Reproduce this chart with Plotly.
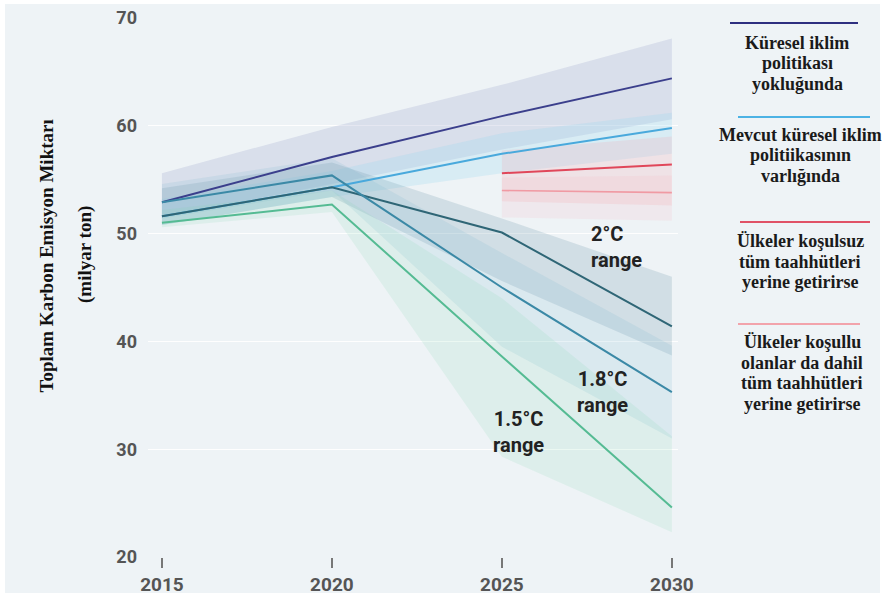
import plotly.graph_objects as go

# ---------------- data ----------------
years = [2015, 2020, 2025, 2030]
years_pledge = [2025, 2030]

no_policy = [52.9, 57.1, 60.9, 64.4]
no_policy_hi = [55.6, 59.9, 63.8, 68.1]
no_policy_lo = [51.5, 54.6, 57.8, 60.6]

current_policy = [51.6, 54.3, 57.4, 59.8]
current_policy_hi = [53.2, 55.8, 59.3, 61.2]
current_policy_lo = [50.8, 53.4, 55.6, 57.4]

uncond = [55.6, 56.4]
uncond_hi = [57.7, 59.0]
uncond_lo = [53.0, 52.6]

cond = [54.0, 53.8]
cond_hi = [55.2, 55.4]
cond_lo = [51.5, 51.2]

deg20 = [51.6, 54.3, 50.1, 41.4]
deg20_hi = [54.2, 56.6, 51.4, 46.0]
deg20_lo = [50.8, 53.4, 45.6, 38.7]

deg18 = [52.9, 55.4, 45.0, 35.3]
deg18_hi = [54.6, 57.0, 48.2, 39.6]
deg18_lo = [51.4, 54.0, 39.5, 31.0]

deg15 = [51.0, 52.7, 38.6, 24.6]
deg15_hi = [52.2, 54.0, 44.0, 31.2]
deg15_lo = [50.6, 52.0, 29.3, 22.3]

y_ticks = [20, 30, 40, 50, 60, 70]
x_ticks = [2015, 2020, 2025, 2030]

legend_items = [
    ["Küresel iklim", "politikası", "yokluğunda"],
    ["Mevcut küresel iklim", "politiikasının", "varlığında"],
    ["Ülkeler koşulsuz", "tüm taahhütleri", "yerine getirirse"],
    ["Ülkeler koşullu", "olanlar da dahil", "tüm taahhütleri", "yerine getirirse"],
]
range_labels = ["2°C<br>range", "1.8°C<br>range", "1.5°C<br>range"]
y_title = ["Toplam Karbon Emisyon Miktarı", "(milyar ton)"]

# ---------------- styles ----------------
C_NAVY = "#3b3f8c"
C_LBLUE = "#49a9dc"
C_RED = "#e0475a"
C_LRED = "#f09aa3"
C_D20 = "#2f6676"
C_D18 = "#3b89a6"
C_D15 = "#55bb93"

W, H = 885, 597
PL, PR, PT, PB = 148, 678, 18, 557  # plot area pixels


def px(xp):
    return (xp - PL) / (PR - PL)


def py(yp):
    return (PB - yp) / (PB - PT)


fig = go.Figure()


def band(x, hi, lo, color):
    fig.add_trace(go.Scatter(
        x=list(x) + list(x)[::-1], y=list(hi) + list(lo)[::-1],
        fill="toself", fillcolor=color, mode="lines",
        line=dict(width=0), hoverinfo="skip", showlegend=False))


def line(x, y, color, width=2):
    fig.add_trace(go.Scatter(x=x, y=y, mode="lines",
                             line=dict(color=color, width=width),
                             showlegend=False))


band(years, no_policy_hi, no_policy_lo, "rgba(150,160,200,0.24)")
band(years, current_policy_hi, current_policy_lo, "rgba(150,215,240,0.25)")
band(years_pledge, uncond_hi, uncond_lo, "rgba(245,160,170,0.20)")
band(years_pledge, cond_hi, cond_lo, "rgba(245,175,185,0.15)")
band(years, deg20_hi, deg20_lo, "rgba(110,150,170,0.22)")
band(years, deg18_hi, deg18_lo, "rgba(120,180,205,0.16)")
band(years, deg15_hi, deg15_lo, "rgba(130,215,175,0.15)")

line(years, no_policy, C_NAVY)
line(years, current_policy, C_LBLUE)
line(years_pledge, uncond, C_RED)
line(years_pledge, cond, C_LRED, 1.6)
line(years, deg20, C_D20)
line(years, deg18, C_D18)
line(years, deg15, C_D15)

# range labels (data coords)
range_pos = [(2027.55, 48.8, "left"), (2027.97, 35.3, "center"), (2025.5, 31.6, "center")]
for lab, (xx, yy, al) in zip(range_labels, range_pos):
    fig.add_annotation(x=xx, y=yy, xref="x", yref="y", text=lab, showarrow=False,
                       xanchor=al, align=al,
                       font=dict(family="Roboto", size=20, color="#222222", weight="bold"))

# y title (two rotated lines)
fig.add_annotation(x=px(33), y=py(256), xref="paper", yref="paper", text=y_title[0],
                   textangle=-90, showarrow=False,
                   font=dict(family="Liberation Serif", size=19, color="#111", weight="bold"))
fig.add_annotation(x=px(72), y=py(255), xref="paper", yref="paper", text=y_title[1],
                   textangle=-90, showarrow=False,
                   font=dict(family="Liberation Serif", size=19, color="#111", weight="bold"))

# custom legend
leg_colors = ["#2e2f80", "#4cb2e4", "#e05266", "#f2a3ab"]
leg_line_y = [23, 117, 222, 324]
leg_line_x = [(730, 858), (738, 870), (740, 870), (738, 860)]
leg_text_y0 = [43, 135, 241, 342]
leg_cx = [797, 800, 800, 802]
shapes = [dict(type="rect", xref="paper", yref="paper", x0=px(5), x1=px(880),
               y0=py(4), y1=py(593), fillcolor="#eef3f6", line=dict(width=0), layer="below")]
for i, lines_ in enumerate(legend_items):
    x0, x1 = leg_line_x[i]
    shapes.append(dict(type="line", xref="paper", yref="paper",
                       x0=px(x0), x1=px(x1), y0=py(leg_line_y[i]), y1=py(leg_line_y[i]),
                       line=dict(color=leg_colors[i], width=2.2)))
    for j, t in enumerate(lines_):
        fig.add_annotation(x=px(leg_cx[i]), y=py(leg_text_y0[i] + j * 20.5),
                           xref="paper", yref="paper", text=t, showarrow=False,
                           xanchor="center", yanchor="middle",
                           font=dict(family="Liberation Serif", size=18, color="#1a1a1a",
                                     weight="bold"))

fig.update_layout(
    template="none",
    width=W, height=H,
    margin=dict(l=PL, r=W - PR, t=PT, b=H - PB, pad=0),
    paper_bgcolor="white", plot_bgcolor="rgba(0,0,0,0)",
    shapes=shapes, showlegend=False,
)
fig.update_xaxes(range=[2014.59, 2030.18], tickvals=x_ticks, ticks="outside", ticklen=10,
                 tickwidth=1.5, tickcolor="#777", showgrid=False, zeroline=False,
                 showline=False, automargin=False,
                 tickfont=dict(family="Roboto", size=19, color="#555", weight="bold"))
fig.update_yaxes(range=[20, 70], tickvals=y_ticks, ticks="", showgrid=True,
                 gridcolor="rgba(255,255,255,0.9)", gridwidth=1.2, zeroline=False,
                 showline=False, automargin=False, ticklabelstandoff=10,
                 tickfont=dict(family="Roboto", size=18, color="#555", weight="bold"))

fig.write_html("out.html", config={"displayModeBar": False},
               post_script="document.body.style.margin='0';document.body.style.padding='0';")
